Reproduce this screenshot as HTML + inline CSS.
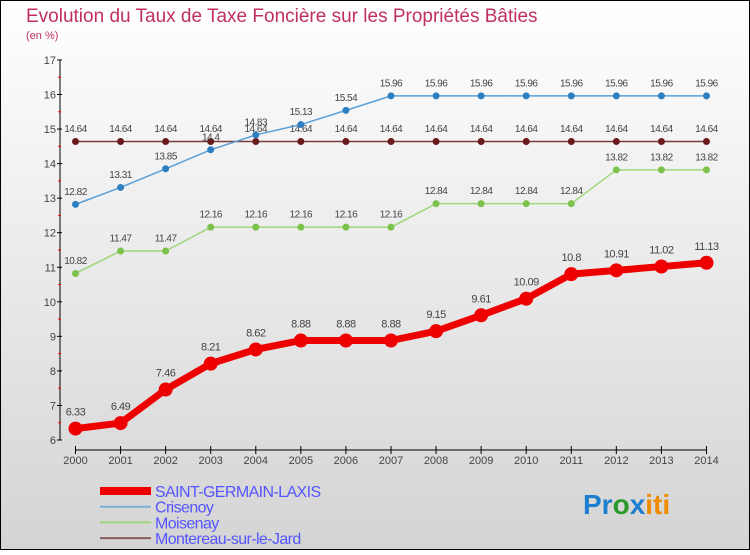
<!DOCTYPE html>
<html><head><meta charset="utf-8"><style>
body{margin:0}
svg text{font-family:"Liberation Sans",sans-serif}
</style></head><body>
<svg id="c" width="750" height="550" xmlns="http://www.w3.org/2000/svg">
<defs><linearGradient id="bg" x1="0" y1="0" x2="0" y2="1"><stop offset="0" stop-color="#ffffff"/><stop offset="1" stop-color="#d4d4d4"/></linearGradient></defs>
<rect x="0.5" y="0.5" width="749" height="549" fill="url(#bg)" stroke="#000"/>
<text x="26" y="22" font-size="19" fill="#c0305e">Evolution du Taux de Taxe Foncière sur les Propriétés Bâties</text>
<text x="26" y="39" font-size="11" fill="#c0305e">(en %)</text>
<g id="axes"></g><g id="series"></g><g id="legend"></g>
<text x="583" y="514" font-size="28" font-weight="bold"><tspan fill="#1e7fd0">Pr</tspan><tspan fill="#2a9a2a">o</tspan><tspan fill="#1e7fd0">x</tspan><tspan fill="#f08a00">iti</tspan></text>
</svg>
<script>
const years=[2000,2001,2002,2003,2004,2005,2006,2007,2008,2009,2010,2011,2012,2013,2014];
const yTicks=[6,7,8,9,10,11,12,13,14,15,16,17];
const stg=[6.33,6.49,7.46,8.21,8.62,8.88,8.88,8.88,9.15,9.61,10.09,10.8,10.91,11.02,11.13];
const stgLabels=["6.33","6.49","7.46","8.21","8.62","8.88","8.88","8.88","9.15","9.61","10.09","10.8","10.91","11.02","11.13"];
const cri=[12.82,13.31,13.85,14.4,14.83,15.13,15.54,15.96,15.96,15.96,15.96,15.96,15.96,15.96,15.96];
const moi=[10.82,11.47,11.47,12.16,12.16,12.16,12.16,12.16,12.84,12.84,12.84,12.84,13.82,13.82,13.82];
const mon=[14.64,14.64,14.64,14.64,14.64,14.64,14.64,14.64,14.64,14.64,14.64,14.64,14.64,14.64,14.64];
const NS="http://www.w3.org/2000/svg";
const X=i=>75.5+i*45.07, Y=v=>440-(v-6)*34.55;
function el(t,a,p){const e=document.createElementNS(NS,t);for(const k in a)e.setAttribute(k,a[k]);p.appendChild(e);return e;}
const ax=document.getElementById('axes');
let l=el('line',{x1:60,y1:60,x2:60,y2:440,stroke:'#000'},ax);


l=el('line',{x1:75,y1:450,x2:706,y2:450,stroke:'#000'},ax);


yTicks.forEach((v,i)=>{
 el('line',{x1:57,y1:Y(v),x2:62,y2:Y(v),stroke:'#000'},ax);
 if(i<yTicks.length-1)el('line',{x1:58,y1:Y(v+0.5),x2:61,y2:Y(v+0.5),stroke:'#f00'},ax);
 const t=el('text',{x:56,y:Y(v)+4,'font-size':11,fill:'#444','text-anchor':'end'},ax);t.textContent=v;
 
 
});
years.forEach((y,i)=>{
 el('line',{x1:X(i),y1:446,x2:X(i),y2:454,stroke:'#000'},ax);
 const t=el('text',{x:X(i),y:464,'font-size':11,fill:'#444','text-anchor':'middle'},ax);t.textContent=y;
 
 
});
const sg=document.getElementById('series');
function series(vals,labs,color,dot,w,r,fs,name){
 const g=el('g',{},sg);
 
 
 el('polyline',{points:vals.map((v,i)=>X(i)+','+Y(v)).join(' '),fill:'none',stroke:color,'stroke-width':w,'stroke-linejoin':'round'},g);
 vals.forEach((v,i)=>{
  const c=el('circle',{cx:X(i),cy:Y(v),r:r,fill:dot},g);
  
  
  const t=el('text',{x:X(i),y:Y(v)-(r+6),'font-size':fs,fill:'#444','text-anchor':'middle','letter-spacing':'-0.5'},g);
  t.textContent=labs?labs[i]:String(v);
 });
}
series(mon,null,'#7a3a3a','#6a1a1a',1.5,3.5,10,'montereau-series');
series(moi,null,'#9fd67a','#7cc24a',1.5,3.5,10,'moisenay-series');
series(cri,null,'#5aa0d8','#2e7fc0',1.5,3.5,10,'crisenoy-series');
series(stg,stgLabels,'#ee0000','#ee0000',7,7,11,'saint-germain-laxis-series');
const lg=document.getElementById('legend');
[['SAINT-GERMAIN-LAXIS','#ee0000',8],['Crisenoy','#7aaed4',2],['Moisenay','#9fd67a',2],['Montereau-sur-le-Jard','#8a5a5a',2]].forEach((d,i)=>{
 const y=491+i*15.7;
 const g=el('g',{},lg);
 
 
 el('line',{x1:100,y1:y,x2:151,y2:y,stroke:d[1],'stroke-width':d[2]},g);
 const t=el('text',{x:155,y:y+6,'font-size':16,fill:'#5555ff','letter-spacing':'-0.6'},g);t.textContent=d[0];
});
</script>
</body></html>
